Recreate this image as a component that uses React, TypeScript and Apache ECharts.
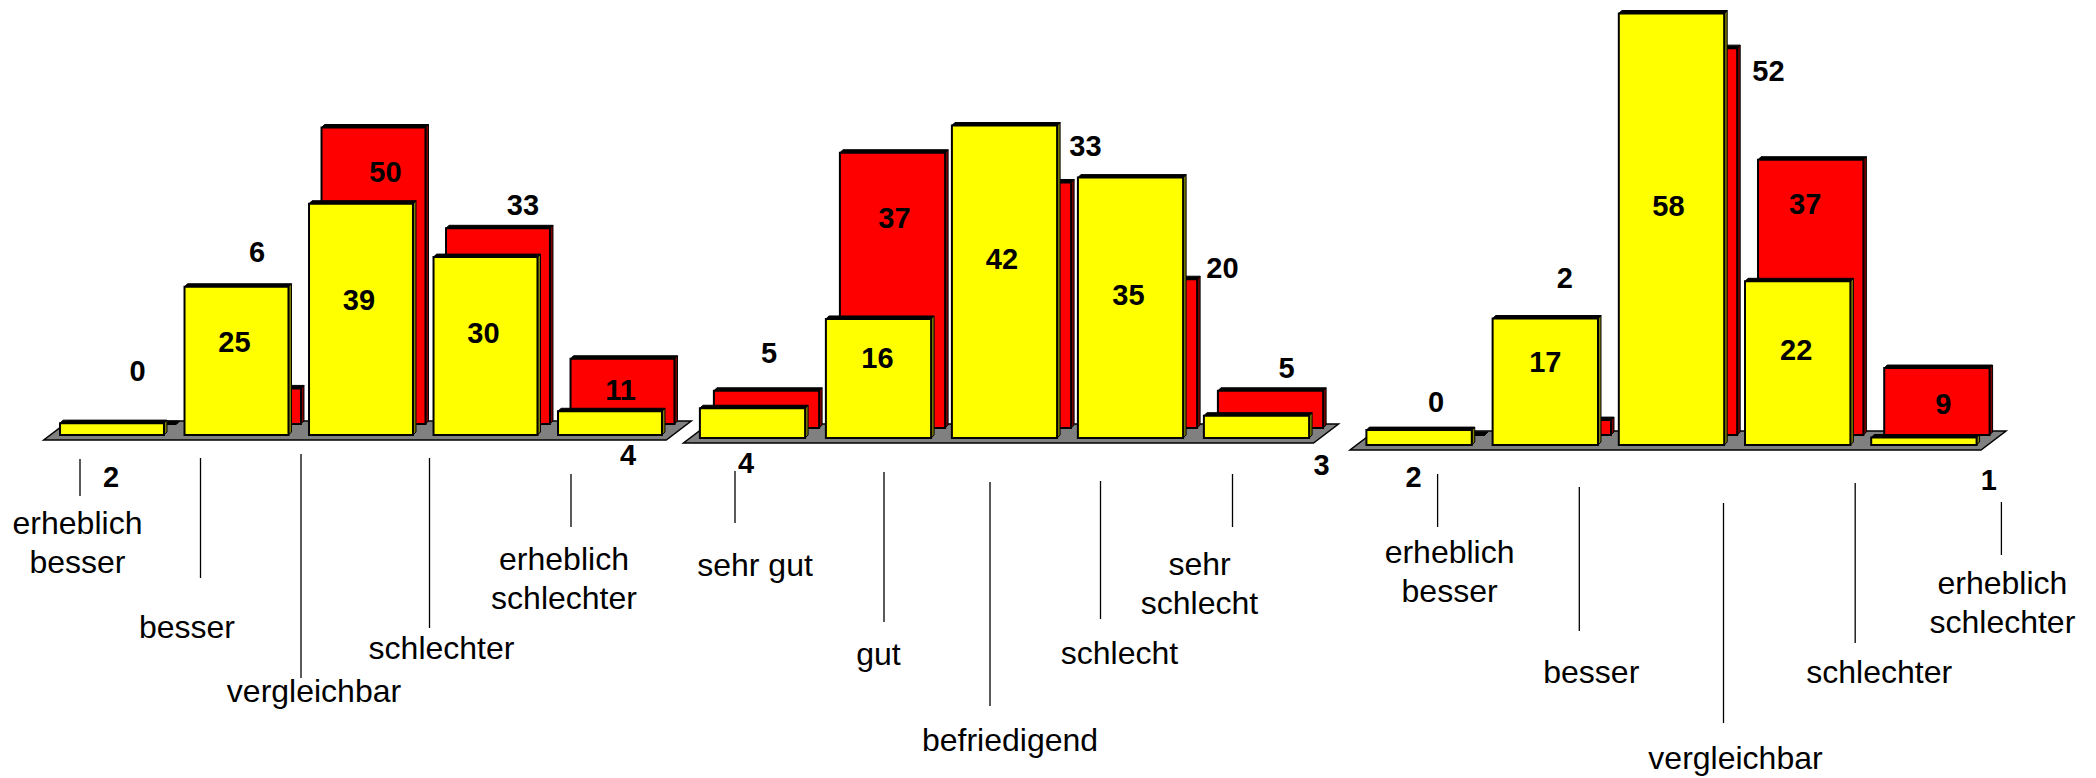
import { useEffect, useRef } from "react";
import * as echarts from "echarts";

// ---------- data ----------
const panel1Categories = ["erheblich\nbesser", "besser", "vergleichbar", "schlechter", "erheblich\nschlechter"];
const panel1Yellow = [2, 25, 39, 30, 4];
const panel1Red = [0, 6, 50, 33, 11];

const panel2Categories = ["sehr gut", "gut", "befriedigend", "schlecht", "sehr\nschlecht"];
const panel2Yellow = [4, 16, 42, 35, 3];
const panel2Red = [5, 37, 33, 20, 5];

const panel3Categories = ["erheblich\nbesser", "besser", "vergleichbar", "schlechter", "erheblich\nschlechter"];
const panel3Yellow = [2, 17, 58, 22, 1];
const panel3Red = [0, 2, 52, 37, 9];

// ---------- styles / layout ----------
const FONT = 'Arial, "Liberation Sans", Helvetica, sans-serif';
const YELLOW = "#FFFF00";
const YELLOW_SIDE = "#808000";
const RED = "#FF0000";
const RED_SIDE = "#800000";
const FLOOR = "#808080";
const BAR_RATIO = 0.835;
const DEPTH = 3;

// label offsets [dx, dy] relative to bar top centre
const p1RedLabelOff = [[13, -53], [8, -136], [12, 44], [25, -23], [-2, 31]];
const p1YellowLabelOff = [[-1, 54], [-2, 55], [-2, 96], [-2, 76], [18, 44]];
const p2RedLabelOff = [[2.5, -38], [2, 65], [67, -36], [78, -11], [16, -23]];
const p2YellowLabelOff = [[-6.5, 55], [-1, 39], [-2.5, 133], [-2, 117], [65, 49]];
const p3RedLabelOff = [[4, -33], [6.5, -142], [84, 23], [-5.5, 44], [6.5, 36]];
const p3YellowLabelOff = [[-5.5, 47], [0, 43], [-3, 192], [-1.5, 69], [65, 42]];

// category label layout: [lineDx, lineY1, lineY2, textDx, firstLineCentreDy] relative to (band centre, base)
const p1CatLayout = [[-32, 24, 61, -34.5, 88], [-36, 23, 143, -49.5, 192], [-60, 19, 243, -47, 256], [-56, 23, 193, -44, 213], [-39, 39, 92, -46, 124]];
const p2CatLayout = [[-17.5, 33, 85, 2.5, 127], [5.5, 34, 184, 0, 216], [-14.5, 44, 268, 5.5, 302], [-30, 43, 181, -11, 215], [-24, 36, 89, -57, 126]];
const p3CatLayout = [[18.5, 29, 82, 30.5, 107], [34, 42, 186, 46, 227], [52, 58, 278, 64, 313], [57.5, 38, 198, 81.5, 227], [77.5, 57, 110, 78.5, 138]];

const panels = [
  {
    cats: panel1Categories, yellow: panel1Yellow, red: panel1Red, max: 70,
    grid: { left: 49.75, width: 622.5, top: 19.9, bottom: 343 },
    redShift: [12.5, -11], redOff: p1RedLabelOff, yellowOff: p1YellowLabelOff, catLayout: p1CatLayout,
  },
  {
    cats: panel2Categories, yellow: panel2Yellow, red: panel2Red, max: 58,
    grid: { left: 689.5, width: 630, top: 6.5, bottom: 340 },
    redShift: [14, -10], redOff: p2RedLabelOff, yellowOff: p2YellowLabelOff, catLayout: p2CatLayout,
  },
  {
    cats: panel3Categories, yellow: panel3Yellow, red: panel3Red, max: 58,
    grid: { left: 1356, width: 631, top: 13.5, bottom: 333 },
    redShift: [13, -10], redOff: p3RedLabelOff, yellowOff: p3YellowLabelOff, catLayout: p3CatLayout,
  },
];

function bar3d(x: number, top: number, w: number, base: number, face: string, side: string) {
  const d = DEPTH;
  return [
    {
      type: "polygon",
      shape: { points: [[x + w, top], [x + w + d, top - d], [x + w + d, base - d], [x + w, base]] },
      style: { fill: side, stroke: "#000", lineWidth: 1 },
    },
    {
      type: "polygon",
      shape: { points: [[x, top], [x + d, top - d], [x + w + d, top - d], [x + w, top]] },
      style: { fill: "#000", stroke: "#000", lineWidth: 1 },
    },
    {
      type: "rect",
      shape: { x, y: top, width: w, height: base - top },
      style: { fill: face, stroke: "#000", lineWidth: 2 },
    },
  ];
}

function valueText(text: string, x: number, y: number) {
  return {
    type: "text",
    z2: 10,
    style: {
      text, x, y, fill: "#000",
      fontSize: 29, fontWeight: "bold", fontFamily: FONT,
      align: "center", verticalAlign: "middle",
    },
  };
}

export default function App() {
  const ref = useRef<HTMLDivElement>(null);

  useEffect(() => {
    const chart = echarts.init(ref.current!, null, { renderer: "svg" });
    const grid: any[] = [];
    const xAxis: any[] = [];
    const yAxis: any[] = [];
    const series: any[] = [];

    panels.forEach((p, k) => {
      grid.push({ ...p.grid, outerBoundsMode: "none" });
      xAxis.push({ type: "category", gridIndex: k, data: p.cats, show: false });
      yAxis.push({ type: "value", gridIndex: k, min: 0, max: p.max, show: false });
      const common = {
        type: "custom", xAxisIndex: k, yAxisIndex: k, clip: false, silent: true,
        encode: { x: 0, y: 1 },
      };

      // floor
      series.push({
        ...common, name: `floor${k}`, z: 1, data: [[0, 0]],
        renderItem: (params: any) => {
          const cs = params.coordSys;
          const x0 = cs.x - 6;
          const x1 = cs.x + cs.width - 6;
          const b = cs.y + cs.height + 5;
          return {
            type: "polygon",
            shape: { points: [[x0, b], [x1, b], [x1 + 25, b - 19], [x0 + 25, b - 19]] },
            style: { fill: FLOOR, stroke: "#000", lineWidth: 1.5 },
          };
        },
      });

      // red (back) bars
      series.push({
        ...common, name: `red${k}`, z: 2, data: p.red.map((v, i) => [i, v]),
        renderItem: (_params: any, api: any) => {
          const i = api.value(0);
          const v = api.value(1);
          const [cx, top] = api.coord([i, v]);
          const base = api.coord([i, 0])[1];
          const bw = api.size([1, 0])[0] * BAR_RATIO;
          const [sx, sy] = p.redShift;
          const x = cx - bw / 2 + sx;
          const [ldx, ldy] = p.redOff[i];
          return {
            type: "group",
            children: [
              ...bar3d(x, top + sy, bw, base + sy, RED, RED_SIDE),
              valueText(String(v), cx + sx + ldx, top + sy + ldy),
            ],
          };
        },
      });

      // yellow (front) bars
      series.push({
        ...common, name: `yellow${k}`, z: 3, data: p.yellow.map((v, i) => [i, v]),
        renderItem: (_params: any, api: any) => {
          const i = api.value(0);
          const v = api.value(1);
          const [cx, top] = api.coord([i, v]);
          const base = api.coord([i, 0])[1];
          const bw = api.size([1, 0])[0] * BAR_RATIO;
          const x = cx - bw / 2;
          const [ldx, ldy] = p.yellowOff[i];
          return {
            type: "group",
            children: [
              ...bar3d(x, top, bw, base, YELLOW, YELLOW_SIDE),
              valueText(String(v), cx + ldx, top + ldy),
            ],
          };
        },
      });

      // category labels with leader lines
      series.push({
        ...common, name: `cats${k}`, z: 4, data: p.cats.map((_c, i) => [i, 0]),
        renderItem: (_params: any, api: any) => {
          const i = api.value(0);
          const [cx, base] = api.coord([i, 0]);
          const [ldx, ly1, ly2, tdx, tdy] = p.catLayout[i];
          const multi = p.cats[i].indexOf("\n") >= 0;
          const lh = multi ? 39 : 34;
          return {
            type: "group",
            children: [
              {
                type: "line",
                shape: { x1: cx + ldx, y1: base + ly1, x2: cx + ldx, y2: base + ly2 },
                style: { stroke: "#000", lineWidth: 1.3 },
              },
              {
                type: "text",
                style: {
                  text: p.cats[i], x: cx + tdx, y: base + tdy - lh / 2, fill: "#000",
                  fontSize: 32, fontFamily: FONT, lineHeight: lh,
                  align: "center", verticalAlign: "top",
                },
              },
            ],
          };
        },
      });
    });

    chart.setOption({
      animation: false,
      backgroundColor: "#fff",
      grid, xAxis, yAxis, series,
    });

    return () => chart.dispose();
  }, []);

  return (
    <div
      ref={ref}
      style={{ position: "fixed", left: 0, top: 0, width: 2096, height: 778, background: "#fff" }}
    />
  );
}
